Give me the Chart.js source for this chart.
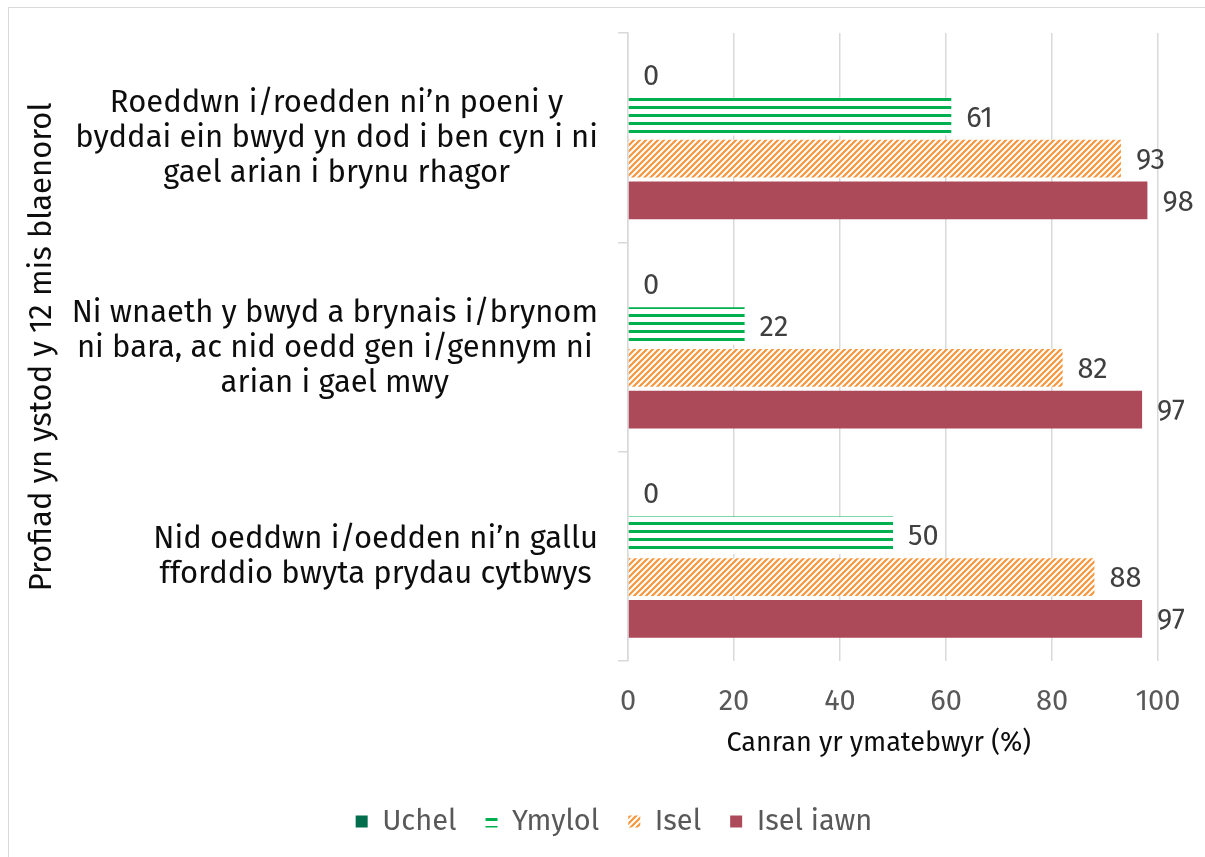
<!DOCTYPE html>
<html>
<head>
<meta charset="utf-8">
<script src="https://cdn.jsdelivr.net/npm/chart.js@4"></script>
<style>
  html, body { margin: 0; padding: 0; background: #fff; }
  #wrap { position: absolute; left: 8px; top: 7px; width: 1205px; height: 857px; border: 1px solid #d9d9d9; box-sizing: border-box; }
  #box { position: absolute; left: 0; top: 0; width: 1205px; height: 857px; }
</style>
</head>
<body>
<div id="wrap"></div>
<div id="box"><canvas id="myChart"></canvas></div>
<script>
// Chart data
const categories = [
  ['Roeddwn i/roedden ni\u2019n poeni y', 'byddai ein bwyd yn dod i ben cyn i ni', 'gael arian i brynu rhagor'],
  ['Ni wnaeth y bwyd a brynais i/brynom', 'ni bara, ac nid oedd gen i/gennym ni', 'arian i gael mwy'],
  ['Nid oeddwn i/oedden ni\u2019n gallu', 'fforddio bwyta prydau cytbwys']
];
const seriesNames = ['Uchel', 'Ymylol', 'Isel', 'Isel iawn'];
const uchel = [0, 0, 0];
const ymylol = [61, 22, 50];
const isel = [93, 82, 88];
const iselIawn = [98, 97, 97];
const xTicks = [0, 20, 40, 60, 80, 100];

const FONT = '"Fira Sans", "Open Sans", sans-serif';

// Fill patterns
function stripes() {
  const c = document.createElement('canvas');
  c.width = 8; c.height = 8;
  const g = c.getContext('2d');
  g.fillStyle = '#ffffff'; g.fillRect(0, 0, 8, 8);
  g.fillStyle = '#00b050'; g.fillRect(0, 2, 8, 3);
  return g.createPattern(c, 'repeat');
}
function hatch() {
  const c = document.createElement('canvas');
  c.width = 6; c.height = 6;
  const g = c.getContext('2d');
  g.fillStyle = '#ffffff'; g.fillRect(0, 0, 6, 6);
  g.strokeStyle = '#f7963c'; g.lineWidth = 2.2;
  g.beginPath();
  g.moveTo(-1, 7); g.lineTo(7, -1);
  g.moveTo(-4, 4); g.lineTo(4, -4);
  g.moveTo(2, 10); g.lineTo(10, 2);
  g.stroke();
  return g.createPattern(c, 'repeat');
}

// Value labels at bar ends
const valueLabels = {
  id: 'valueLabels',
  afterDatasetsDraw(chart) {
    const ctx = chart.ctx;
    ctx.save();
    ctx.font = '29px ' + FONT;
    ctx.fillStyle = '#404040';
    ctx.textAlign = 'left';
    ctx.textBaseline = 'middle';
    chart.data.datasets.forEach((ds, i) => {
      chart.getDatasetMeta(i).data.forEach((el, j) => {
        ctx.fillText(String(ds.data[j]), el.x + 15, el.y + 2);
      });
    });
    ctx.restore();
  }
};

// Category labels, each block centred on itself and right-aligned to the axis
const catLabels = {
  id: 'catLabels',
  afterDraw(chart) {
    const ctx = chart.ctx;
    const y = chart.scales.y;
    ctx.save();
    ctx.font = '31px ' + FONT;
    ctx.fillStyle = '#0d0d0d';
    ctx.textAlign = 'center';
    ctx.textBaseline = 'middle';
    const right = y.right - 30;
    const lh = 35;
    categories.forEach((lines, i) => {
      const w = Math.max(...lines.map(l => ctx.measureText(l).width));
      const cx = right - w / 2;
      const cy = y.getPixelForTick(i) + 1;
      lines.forEach((l, k) => {
        ctx.fillText(l, cx, cy + (k - (lines.length - 1) / 2) * lh);
      });
    });
    ctx.restore();
  }
};

const data = {
  labels: categories.map(c => c.join(' ')),
  datasets: [
    { label: seriesNames[0], data: uchel, backgroundColor: '#006d4c' },
    { label: seriesNames[1], data: ymylol, backgroundColor: stripes() },
    { label: seriesNames[2], data: isel, backgroundColor: hatch() },
    { label: seriesNames[3], data: iselIawn, backgroundColor: '#ad4a5a' }
  ]
};

const config = {
  type: 'bar',
  data: data,
  options: {
    indexAxis: 'y',
    responsive: false,
    animation: false,
    categoryPercentage: 0.8,
    barPercentage: 0.9,
    layout: { padding: { top: 33, right: 47, bottom: 11, left: 70 } },
    plugins: {
      legend: {
        position: 'bottom',
        labels: {
          boxWidth: 12, boxHeight: 12, padding: 29,
          color: '#595959',
          font: { family: FONT, size: 29 }
        }
      },
      tooltip: { enabled: false }
    },
    scales: {
      x: {
        min: 0, max: 100,
        afterBuildTicks: s => { s.ticks = xTicks.map(v => ({ value: v })); },
        grid: { color: '#d9d9d9', drawTicks: false, lineWidth: 1.5 },
        border: { display: false },
        ticks: { color: '#595959', padding: 24, font: { family: FONT, size: 29 } },
        title: {
          display: true, text: 'Canran yr ymatebwyr (%)\u00a0\u00a0\u00a0\u00a0', color: '#0d0d0d',
          font: { family: FONT, size: 27 }, padding: { top: -16, bottom: 18 }
        }
      },
      y: {
        afterFit: s => { s.width = 558; },
        grid: { color: '#d9d9d9', drawOnChartArea: false, tickLength: 10, lineWidth: 1.5 },
        border: { color: '#d9d9d9', width: 1.5 },
        ticks: { callback: () => '' },
        title: {
          display: true, text: 'Profiad yn ystod y 12 mis blaenorol', color: '#0d0d0d',
          font: { family: FONT, size: 31 }, padding: { top: -46, bottom: 0 }
        }
      }
    }
  },
  plugins: [valueLabels, catLabels]
};

const ctx = document.getElementById('myChart');
ctx.width = 1205; ctx.height = 857;
new Chart(ctx, config);
</script>
</body>
</html>
